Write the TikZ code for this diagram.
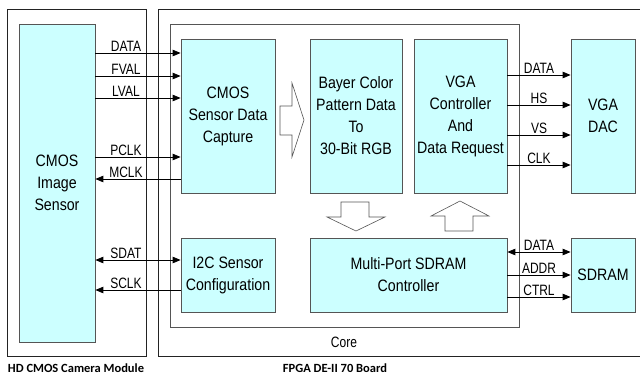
\documentclass[tikz,border=0pt]{standalone}
\usepackage{fontspec}
\setmainfont{Liberation Sans}
\newfontfamily\boxfont[FakeStretch=0.86]{Liberation Sans}
\newfontfamily\sigfont[FakeStretch=0.8]{Liberation Sans}
\newfontfamily\capfont{Carlito}
\usepackage{tikz}
\usetikzlibrary{shapes,arrows}

\definecolor{blockFill}{RGB}{204,255,255}
\definecolor{blockLine}{RGB}{85,85,85}
\definecolor{frameLine}{RGB}{35,35,35}

\tikzset{
  block/.style={draw=blockLine, fill=blockFill, line width=0.9pt, inner sep=0pt, align=center,
    font=\boxfont\fontsize{16.5}{22}\selectfont},
  sig/.style={font=\sigfont\fontsize{15}{17}\selectfont, inner sep=0pt, anchor=base},
  wire/.style={line width=0.8pt, >=triangle 45},
  bigarrow/.style={draw=blockLine, fill=white, line width=0.6pt},
  frame/.style={draw=frameLine, line width=0.9pt},
}

\begin{document}
\begin{tikzpicture}[x=1pt,y=-1pt]
\useasboundingbox (0,0) rectangle (640,380);
\draw[frame] (7,9) rectangle (146,356);
\draw[frame] (158,9) rectangle (660,356);
\draw[draw=blockLine, line width=0.9pt] (170,24) rectangle (519,327);

\node[block, minimum width=76, minimum height=318] (sensor) at (57,183) {CMOS\\Image\\Sensor};
\node[block, minimum width=94, minimum height=154] (capture) at (228,116) {CMOS\\Sensor Data\\Capture};
\node[block, minimum width=92, minimum height=154] (bayer) at (356,116) {Bayer Color\\Pattern Data\\To\\30-Bit RGB};
\node[block, minimum width=93, minimum height=154] (vgactl) at (460.5,116) {VGA\\Controller\\And\\Data Request};
\node[block, minimum width=64, minimum height=154] (vgadac) at (603,116) {VGA\\DAC};
\node[block, minimum width=94, minimum height=74] (i2c) at (228,275) {I2C Sensor\\Configuration};
\node[block, minimum width=197, minimum height=74] (sdramctl) at (408.5,275) {Multi-Port SDRAM\\Controller};
\node[block, minimum width=64, minimum height=74] (sdram) at (603,275) {SDRAM};

\foreach \name/\y in {DATA/53, FVAL/76, LVAL/98, PCLK/157}
{
  \draw[wire,->] (sensor.east |- 0,\y) -- (capture.west |- 0,\y);
  \node[sig] at (126,\y-2) {\name};
}
\draw[wire,<-] (sensor.east |- 0,179) -- (capture.west |- 0,179);
\node[sig] at (126,177) {MCLK};
\draw[wire,<->] (sensor.east |- 0,260) -- (i2c.west |- 0,260);
\node[sig] at (126,258) {SDAT};
\draw[wire,<-] (sensor.east |- 0,290) -- (i2c.west |- 0,290);
\node[sig] at (126,288) {SCLK};

\foreach \name/\y in {DATA/75, HS/105, VS/135, CLK/165}
{
  \draw[wire,->] (vgactl.east |- 0,\y) -- (vgadac.west |- 0,\y);
  \node[sig] at (539,\y-2) {\name};
}
\draw[wire,<->] (sdramctl.east |- 0,252) -- (sdram.west |- 0,252);
\node[sig] at (539,250) {DATA};
\foreach \name/\y in {ADDR/275, CTRL/297}
{
  \draw[wire,->] (sdramctl.east |- 0,\y) -- (sdram.west |- 0,\y);
  \node[sig] at (539,\y-2) {\name};
}

\draw[bigarrow] (280,106) -- (292,106) -- (292,83) -- (304,120) -- (292,157) -- (292,135) -- (280,135) -- cycle;
\draw[bigarrow] (341,202) -- (369,202) -- (369,217) -- (385,217) -- (356,231) -- (327,217) -- (341,217) -- cycle;
\draw[bigarrow] (445,231) -- (473,231) -- (473,216) -- (489,216) -- (460,201) -- (431,216) -- (445,216) -- cycle;

\node[font=\sigfont\fontsize{15}{17}\selectfont, inner sep=0pt] (core) at (344,342) {Core};
\node[font=\capfont\bfseries\fontsize{12.5}{14}\selectfont, inner sep=0pt] (camlabel) at (76,368) {HD CMOS Camera Module};
\node[font=\capfont\bfseries\fontsize{12.5}{14}\selectfont, inner sep=0pt] (fpgalabel) at (335,368) {FPGA DE-II 70 Board};
\end{tikzpicture}
\end{document}
